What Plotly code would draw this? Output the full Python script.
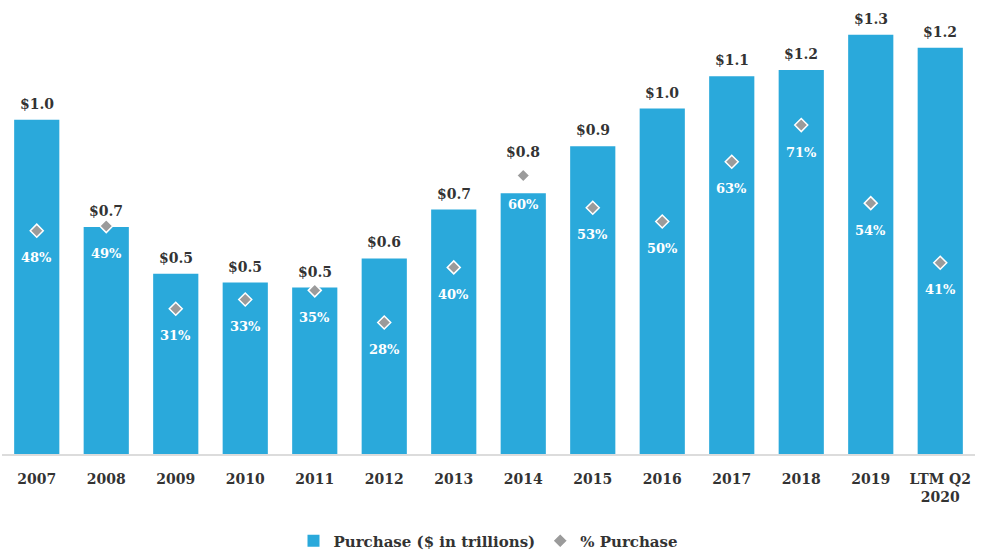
import plotly.graph_objects as go

# Purchase volume ($ trillions) and purchase share (%) by period
categories = ["2007", "2008", "2009", "2010", "2011", "2012", "2013",
              "2014", "2015", "2016", "2017", "2018", "2019", "LTM Q2<br>2020"]
purchase = [1.01, 0.686, 0.545, 0.518, 0.503, 0.591, 0.739,
            0.788, 0.930, 1.044, 1.142, 1.161, 1.267, 1.228]
pct_purchase = [48, 49, 31, 33, 35, 28, 40, 60, 53, 50, 63, 71, 54, 41]

FONT = "DejaVu Serif"
BAR_COLOR = "#2aa9db"
DIAMOND_COLOR = "#9b9b9b"
TEXT_DARK = "#333333"

Y_RANGE = [0, 1.342]
Y2_RANGE = [-0.65, 96.07]


def pct_to_primary(p):
    """Express a percentage (right axis) in primary-axis units."""
    frac = (p - Y2_RANGE[0]) / (Y2_RANGE[1] - Y2_RANGE[0])
    return Y_RANGE[0] + frac * (Y_RANGE[1] - Y_RANGE[0])


fig = go.Figure()

fig.add_trace(go.Bar(
    x=categories, y=purchase,
    name="<b>Purchase ($ in trillions)</b>",
    marker=dict(color=BAR_COLOR, line=dict(width=0)),
    hoverinfo="skip",
))

fig.add_trace(go.Scatter(
    x=categories, y=pct_purchase,
    name="<b>% Purchase</b>",
    mode="markers",
    yaxis="y2",
    marker=dict(symbol="diamond", size=10, color=DIAMOND_COLOR,
                line=dict(color="white", width=1.5)),
    hoverinfo="skip",
))

annotations = []
# Dollar labels above each bar, lifted over the diamond when it sits higher
for i, (val, p) in enumerate(zip(purchase, pct_purchase)):
    diamond_y = pct_to_primary(p)
    if diamond_y > val + 0.02:
        anchor_y, shift = diamond_y, 14
    else:
        anchor_y, shift = val, 6
    annotations.append(dict(
        x=i, y=anchor_y, xref="x", yref="y",
        text=f"<b>${val:.1f}</b>", showarrow=False,
        yanchor="bottom", yshift=shift,
        font=dict(family=FONT, size=14, color=TEXT_DARK),
    ))
# Percentage labels beneath each diamond (kept inside the bar)
for i, (val, p) in enumerate(zip(purchase, pct_purchase)):
    diamond_y = pct_to_primary(p)
    if diamond_y > val + 0.02:
        annotations.append(dict(
            x=i, y=val, xref="x", yref="y",
            text=f"<b>{p}%</b>", showarrow=False,
            yanchor="middle", yshift=-11,
            font=dict(family=FONT, size=13, color="white"),
        ))
    else:
        annotations.append(dict(
            x=i, y=p, xref="x", yref="y2",
            text=f"<b>{p}%</b>", showarrow=False,
            yanchor="middle", yshift=-27,
            font=dict(family=FONT, size=13, color="white"),
        ))

fig.update_layout(
    width=981, height=555,
    margin=dict(l=2, r=6, t=10, b=101, autoexpand=False),
    paper_bgcolor="white", plot_bgcolor="white",
    bargap=0.35,
    showlegend=True,
    legend=dict(
        orientation="h", x=0.5, xanchor="center",
        y=-0.196, yanchor="middle",
        font=dict(family=FONT, size=15, color=TEXT_DARK),
        itemsizing="constant",
    ),
    xaxis=dict(
        type="category",
        range=[-0.5, len(categories) - 0.5], autorange=False,
        showgrid=False, zeroline=False,
        showline=True, linecolor="#dcdcdc", linewidth=2,
        ticks="", ticklabelstandoff=11,
        tickfont=dict(family=FONT, size=14, color=TEXT_DARK, weight="bold"),
    ),
    yaxis=dict(range=Y_RANGE, visible=False, showgrid=False, zeroline=False),
    yaxis2=dict(range=Y2_RANGE, overlaying="y", visible=False,
                showgrid=False, zeroline=False),
    annotations=annotations,
)

fig.write_html("out.html")
